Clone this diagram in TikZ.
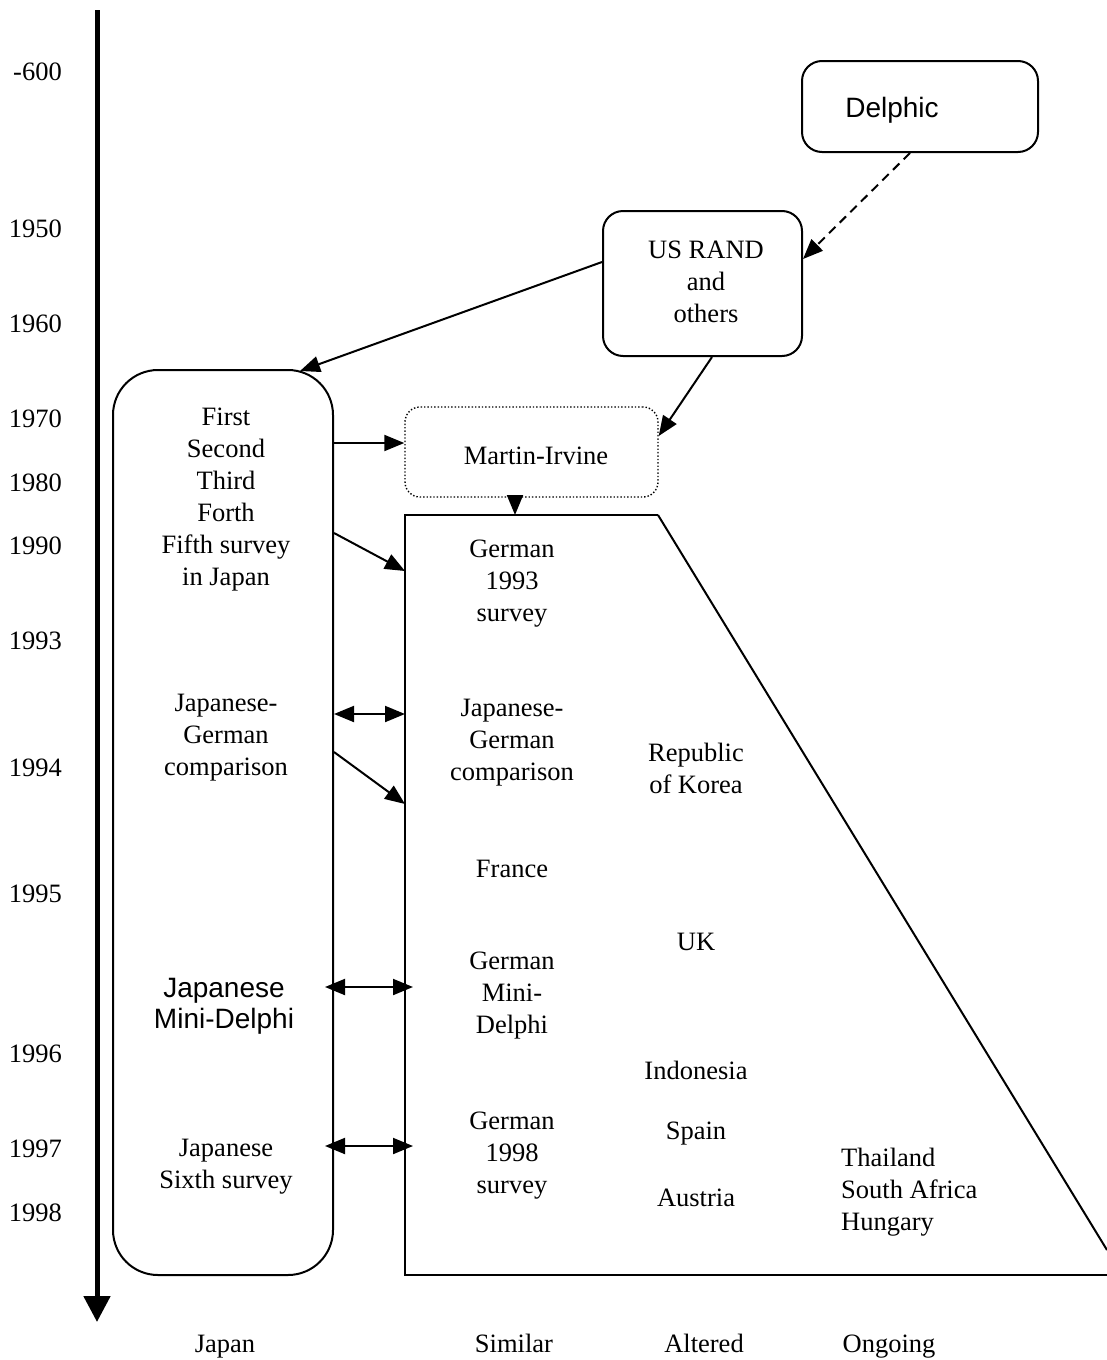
\documentclass[tikz,border=0pt]{standalone}
\usepackage{fontspec}
\setmainfont{Liberation Serif}
\newfontfamily\labsans{Liberation Sans}
\usetikzlibrary{arrows.meta}
\begin{document}
\begin{tikzpicture}[x=1pt,y=-1pt,
  txt/.style={font=\fontsize{26.5}{32}\selectfont, align=center, inner sep=0pt},
  stxt/.style={font=\labsans\fontsize{28}{31}\selectfont, align=center, inner sep=0pt},
  year/.style={font=\fontsize{26.5}{32}\selectfont, inner sep=0pt, anchor=base east},
  head/.style={font=\fontsize{26.5}{32}\selectfont, inner sep=0pt, anchor=base},
  rbox/.style={draw, line width=2pt, rounded corners=20pt, inner sep=0pt},
  edge/.style={line width=2pt},
  tip/.style={edge, -{Triangle[length=20pt,width=16pt]}},
  twotip/.style={edge, {Triangle[length=20pt,width=16pt]}-{Triangle[length=20pt,width=16pt]}}
]
\useasboundingbox (0,0) rectangle (1107,1360);

% time axis
\coordinate (axtop) at (97,10);
\coordinate (axbot) at (97,1322);
\draw[line width=5pt, -{Triangle[length=26pt,width=26pt]}] (axtop) -- (axbot);

% years
\node[year] (y600) at (62,80) {-600};
\node[year] (y1950) at (62,237) {1950};
\node[year] (y1960) at (62,332) {1960};
\node[year] (y1970) at (62,427) {1970};
\node[year] (y1980) at (62,491) {1980};
\node[year] (y1990) at (62,554) {1990};
\node[year] (y1993) at (62,649) {1993};
\node[year] (y1994) at (62,776) {1994};
\node[year] (y1995) at (62,902) {1995};
\node[year] (y1996) at (62,1062) {1996};
\node[year] (y1997) at (62,1157) {1997};
\node[year] (y1998) at (62,1221) {1998};

% origin boxes
\node[rbox, minimum width=236pt, minimum height=91pt] (delphic) at (920,106.5) {};
\node[stxt] (delphictxt) at (892,110) {Delphic};
\node[rbox, minimum width=199pt, minimum height=145pt] (rand) at (702.5,283.5) {};
\node[txt] (randtxt) at (706,282) {US RAND\\and\\others};

% Japan column
\node[rbox, rounded corners=45pt, minimum width=220pt, minimum height=905pt] (japan) at (223,822.5) {};
\node[txt] (jp1) at (226,500) {First\\Second\\Third\\Forth\\Fifth survey\\in Japan};
\node[txt] (jp2) at (226,738) {Japanese-\\German\\comparison};
\node[stxt] (jp3) at (224,1006) {Japanese\\Mini-Delphi};
\node[txt] (jp4) at (226,1167) {Japanese\\Sixth survey};

% Martin-Irvine
\node[draw, dotted, line width=1.4pt, rounded corners=15pt, minimum width=253pt, minimum height=90pt, inner sep=0pt] (mi) at (531.5,452) {};
\node[txt] (mitxt) at (536,456) {Martin-Irvine};

% spread region
\coordinate (tl) at (405,515);
\coordinate (tr) at (658,515);
\coordinate (bl) at (405,1275);
\coordinate (br) at (1107,1275);
\coordinate (dg) at (1107,1250);
\draw[edge] (tr) -- (tl) -- (bl) -- (br);
\draw[edge] (tr) -- (dg);

% Similar column
\node[txt] (s1) at (512,584) {German\\1993\\survey};
\node[txt] (s2) at (512,743) {Japanese-\\German\\comparison};
\node[txt] (s3) at (512,869) {France};
\node[txt] (s4) at (512,996) {German\\Mini-\\Delphi};
\node[txt] (s5) at (512,1156) {German\\1998\\survey};

% Altered column
\node[txt] (a1) at (696,768) {Republic\\of Korea};
\node[txt] (a2) at (696,942) {UK};
\node[txt] (a3) at (696,1070) {Indonesia};
\node[txt] (a4) at (696,1134) {Spain};
\node[txt] (a5) at (696,1198) {Austria};

% Ongoing column
\node[txt, align=left, anchor=west] (o1) at (841,1192) {Thailand\\South Africa\\Hungary};

% column headings
\node[head] (hj) at (225,1352) {Japan};
\node[head] (hs) at (514,1352) {Similar};
\node[head] (ha) at (704,1352) {Altered};
\node[head] (ho) at (889,1352) {Ongoing};

% connectors
\draw[edge, dashed, dash pattern=on 9pt off 6pt, -{Triangle[length=20pt,width=16pt]}] (delphic.south -| 910,0) -- (rand.east |- 0,259);
\draw[tip] (rand.west |- 0,262) -- (300,371);
\draw[tip] (rand.south -| 712,0) -- (mi.east |- 0,436);
\draw[tip] (japan.east |- 0,443) -- (mi.west |- 0,443);
\draw[tip] (mi.south -| 515,0) -- (tl -| 515,0);
\draw[tip] (japan.east |- 0,533) -- (tl |- 0,571);
\draw[twotip] (japan.east |- 0,714) -- (tl |- 0,714);
\draw[tip] (japan.east |- 0,752) -- (tl |- 0,804);
\draw[twotip] (325,987) -- (413,987);
\draw[twotip] (325,1146) -- (413,1146);
\end{tikzpicture}
\end{document}
